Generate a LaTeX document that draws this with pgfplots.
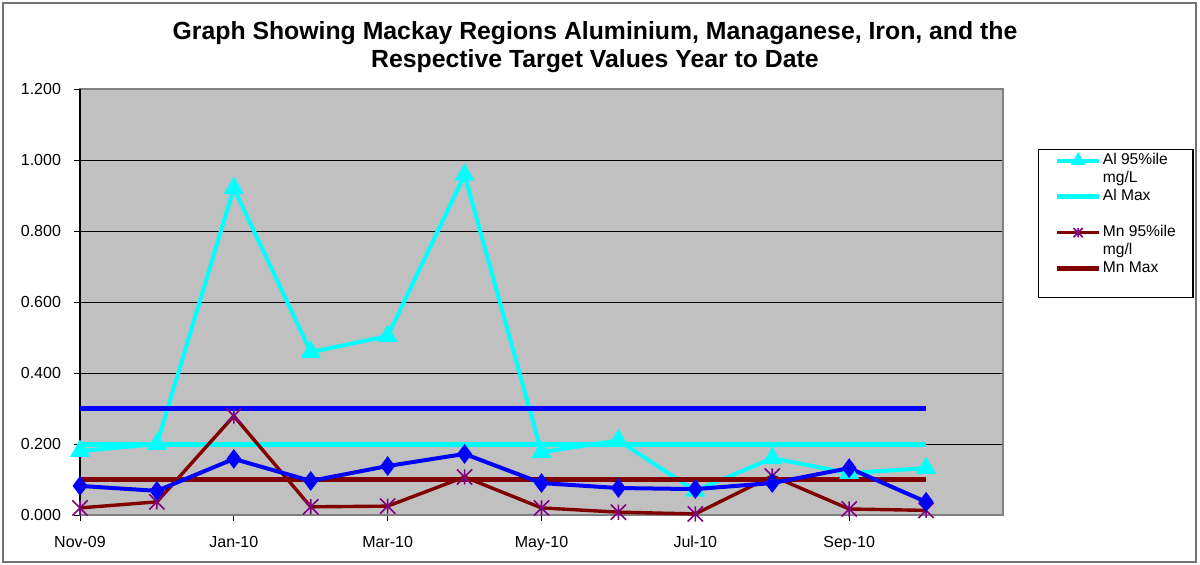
\documentclass[border=0pt]{standalone}
\usepackage{pgfplots}
\usepackage{pgfplotstable}
\pgfplotsset{compat=1.18}
\usepackage{fontspec}
\setmainfont{Liberation Sans}

\definecolor{alcyan}{RGB}{0,255,255}
\definecolor{feblue}{RGB}{0,0,255}
\definecolor{mnred}{RGB}{128,0,0}
\definecolor{mnmark}{RGB}{128,0,128}
\definecolor{plotgray}{RGB}{192,192,192}

% x with a vertical bar, like the spreadsheet's star marker
\pgfdeclareplotmark{xstar}{%
  \pgfpathmoveto{\pgfqpoint{-\pgfplotmarksize}{-\pgfplotmarksize}}%
  \pgfpathlineto{\pgfqpoint{\pgfplotmarksize}{\pgfplotmarksize}}%
  \pgfpathmoveto{\pgfqpoint{-\pgfplotmarksize}{\pgfplotmarksize}}%
  \pgfpathlineto{\pgfqpoint{\pgfplotmarksize}{-\pgfplotmarksize}}%
  \pgfpathmoveto{\pgfqpoint{0pt}{-\pgfplotmarksize}}%
  \pgfpathlineto{\pgfqpoint{0pt}{\pgfplotmarksize}}%
  \pgfusepathqstroke}

% month index 0 = Nov-09 ... 11 = Oct-10
\pgfplotstableread{
x  al    fe    mn
0  0.180 0.082 0.020
1  0.200 0.068 0.037
2  0.921 0.158 0.279
3  0.459 0.096 0.023
4  0.504 0.138 0.025
5  0.958 0.172 0.107
6  0.177 0.090 0.020
7  0.210 0.076 0.008
8  0.068 0.073 0.003
9  0.160 0.090 0.110
10 0.118 0.132 0.017
11 0.132 0.037 0.013
}\ytddata

\begin{document}
\begin{tikzpicture}
\useasboundingbox (0,0) rectangle (600pt,282pt);
\draw[line width=0.6pt, black!55] (1.5pt,1pt) rectangle (598pt,280.5pt);
\node[font=\bfseries\fontsize{12.4}{14}\selectfont, align=center] at (297.5pt,258.5pt)
  {Graph Showing Mackay Regions Aluminium, Managanese, Iron, and the\\Respective Target Values Year to Date};
\begin{axis}[
  at={(40pt,24.5pt)}, anchor=south west,
  width=461.5pt, height=213pt, scale only axis,
  xmin=0, xmax=12, ymin=0, ymax=1.2,
  clip=false,
  axis background/.style={fill=plotgray},
  axis line style={draw=black!50, line width=0.6pt},
  ymajorgrids, grid style={black, line width=0.5pt},
  ytick={0,0.2,0.4,0.6,0.8,1.0,1.2},
  /pgf/number format/fixed, /pgf/number format/fixed zerofill, /pgf/number format/precision=3,
  xtick={0,2,4,6,8,10},
  xticklabels={Nov-09,Jan-10,Mar-10,May-10,Jul-10,Sep-10},
  tick align=outside, xtick pos=bottom, ytick pos=left,
  major tick length=3pt, tick style={black, line width=0.5pt},
  ticklabel style={font=\fontsize{8}{9}\selectfont},
  xticklabel style={yshift=-4pt},
  yticklabel style={xshift=-3pt},
  /pgf/number format/assume math mode=true,
  legend image code/.code={\draw[mark repeat=2,mark phase=2,#1,mark size=2.3pt] plot coordinates {(0pt,0pt)(10.5pt,0pt)(21pt,0pt)};},
  legend cell align=left,
  legend style={at={(1.038,0.859)}, anchor=north west, draw=black, line width=0.6pt,
    fill=white, font=\fontsize{7.8}{8}\selectfont, row sep=1.0pt, inner xsep=8pt, inner ysep=1.5pt,
    nodes={inner sep=0.6pt, text height=5.4pt, text depth=1.4pt}},
]
\draw[black, line width=0.6pt] (axis cs:0,0) -- (axis cs:0,1.2);
\addplot[alcyan, line width=2pt, mark=triangle*, mark size=3.8pt, mark options={solid}] table[x=x,y=al] {\ytddata};
\addlegendentry{Al 95\%ile}
\addlegendimage{empty legend}
\addlegendentry{mg/L}
\addplot[alcyan, line width=2.5pt] coordinates {(0,0.2) (11,0.2)};
\addlegendentry{Al Max}
\addlegendimage{empty legend}
\addlegendentry{}
\addplot[mnred, line width=1.7pt, mark=xstar, mark size=3.8pt, mark options={mnmark, line width=0.8pt}] table[x=x,y=mn] {\ytddata};
\addlegendentry{Mn 95\%ile}
\addlegendimage{empty legend}
\addlegendentry{mg/l}
\addplot[mnred, line width=2.5pt] coordinates {(0,0.1) (11,0.1)};
\addlegendentry{Mn Max}
\addlegendimage{empty legend}
\addlegendentry{}
\addplot[feblue, line width=2pt, mark=diamond*, mark size=3.3pt, forget plot] table[x=x,y=fe] {\ytddata};
\addplot[feblue, line width=2.5pt, forget plot] coordinates {(0,0.3) (11,0.3)};
\end{axis}
\end{tikzpicture}
\end{document}
